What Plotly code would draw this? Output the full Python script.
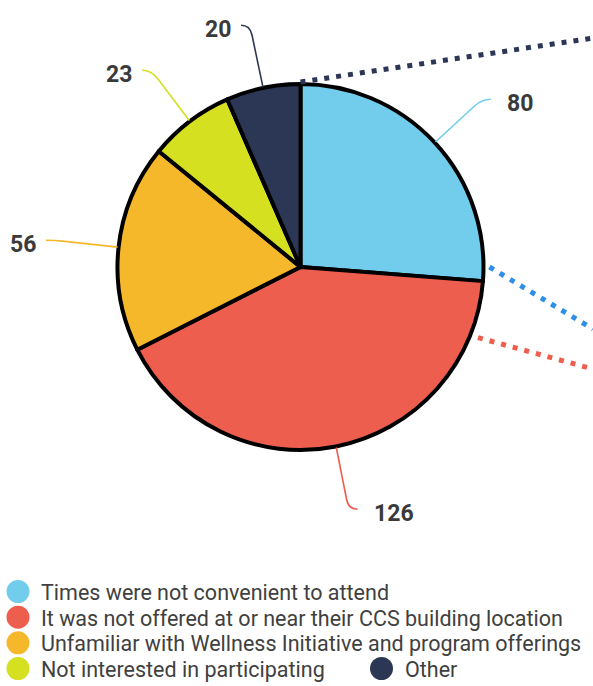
import math
import plotly.graph_objects as go

# Survey responses: reasons for not participating
categories = [
    "Times were not convenient to attend",
    "It was not offered at or near their CCS building location",
    "Unfamiliar with Wellness Initiative and program offerings",
    "Not interested in participating",
    "Other",
]
counts = [80, 126, 56, 23, 20]
slice_colors = ["#72CDED", "#EE5E4E", "#F6B82B", "#D5E021", "#2C3755"]

# Figure geometry (pixels)
W, H = 593, 686
CX, CY, R = 300.5, 267, 183
LEADER_R = 1.35 * R

fig = go.Figure()

fig.add_trace(go.Pie(
    labels=categories,
    values=counts,
    sort=False,
    direction="clockwise",
    rotation=0,
    marker=dict(colors=slice_colors, line=dict(color="#000000", width=4)),
    textinfo="none",
    hoverinfo="label+value",
    showlegend=False,
    domain=dict(x=[(CX - R) / W, (CX + R) / W],
                y=[1 - (CY + R) / H, 1 - (CY - R) / H]),
))

# Hidden pixel-space axes used for leader lines, labels and legend
fig.add_trace(go.Scatter(x=[0, W], y=[0, H], mode="markers",
                         marker=dict(opacity=0), hoverinfo="skip", showlegend=False))


def polar(angle_deg, r):
    a = math.radians(angle_deg)
    return CX + r * math.cos(a), CY - r * math.sin(a)


# Mid-angle of each slice (clockwise from 12 o'clock)
total = sum(counts)
mid_angles = []
acc = 0
for v in counts:
    mid_angles.append(90 - 360 * (acc + v / 2) / total)
    acc += v

shapes = []
annotations = []

# Curved leader lines with value labels
for val, ang, col in zip(counts, mid_angles, slice_colors):
    ex, ey = polar(ang, R + 1)
    bx, by = polar(ang, LEADER_R)
    side = 1 if math.cos(math.radians(ang)) > 0 else -1
    tx, ty = bx + side * 9, by
    d = math.hypot(bx - ex, by - ey)
    px_, py_ = bx - (bx - ex) / d * 10, by - (by - ey) / d * 10
    shapes.append(dict(
        type="path", xref="x", yref="y",
        path=f"M{ex:.1f},{ey:.1f} L{px_:.1f},{py_:.1f} Q{bx:.1f},{by:.1f} {tx:.1f},{ty:.1f}",
        line=dict(color=col, width=1.6),
    ))
    annotations.append(dict(
        x=tx + (14 if side > 0 else -8), y=ty + 4, xref="x", yref="y",
        text=str(val), showarrow=False,
        xanchor="left" if side > 0 else "right", yanchor="middle",
        font=dict(family="Roboto", size=23, color="#3A3A3A", weight="bold"),
    ))

# Dotted connector lines leading off to the right
connectors = [
    # (colour, start angle, start radius, end y at right edge)
    ("#2C3755", 90, R + 2, 38),
    ("#2F8FE6", 0, R + 6, 329),
    ("#EE5E4E", -21.7, R + 8, 369),
]
for col, ang, r, end_y in connectors:
    sx, sy = polar(ang, r)
    shapes.append(dict(
        type="line", xref="x", yref="y",
        x0=sx, y0=sy, x1=W, y1=end_y,
        line=dict(color=col, width=5, dash="5px,7px"),
    ))

# Legend: circular swatches with labels
legend_rows = [591.5, 617.2, 642.8, 668.5]
legend_slots = [(18, 0), (18, 1), (18, 2), (18, 3), (381.5, 3)]
SW_R = 11.5
for name, col, (lx, row) in zip(categories, slice_colors, legend_slots):
    ly = legend_rows[row]
    shapes.append(dict(
        type="circle", xref="x", yref="y",
        x0=lx - SW_R, x1=lx + SW_R, y0=ly - SW_R, y1=ly + SW_R,
        fillcolor=col, line=dict(width=0),
    ))
    annotations.append(dict(
        x=lx + 21, y=ly + 1, xref="x", yref="y",
        text=name, showarrow=False, xanchor="left", yanchor="middle",
        font=dict(family="Roboto", size=21.5, color="#404040"),
    ))

fig.update_layout(
    width=W, height=H,
    margin=dict(l=0, r=0, t=0, b=0, autoexpand=False),
    paper_bgcolor="white", plot_bgcolor="rgba(0,0,0,0)",
    xaxis=dict(range=[0, W], visible=False, fixedrange=True, domain=[0, 1]),
    yaxis=dict(range=[H, 0], visible=False, fixedrange=True, domain=[0, 1]),
    shapes=shapes,
    annotations=annotations,
    showlegend=False,
)

fig.write_html("out.html")
